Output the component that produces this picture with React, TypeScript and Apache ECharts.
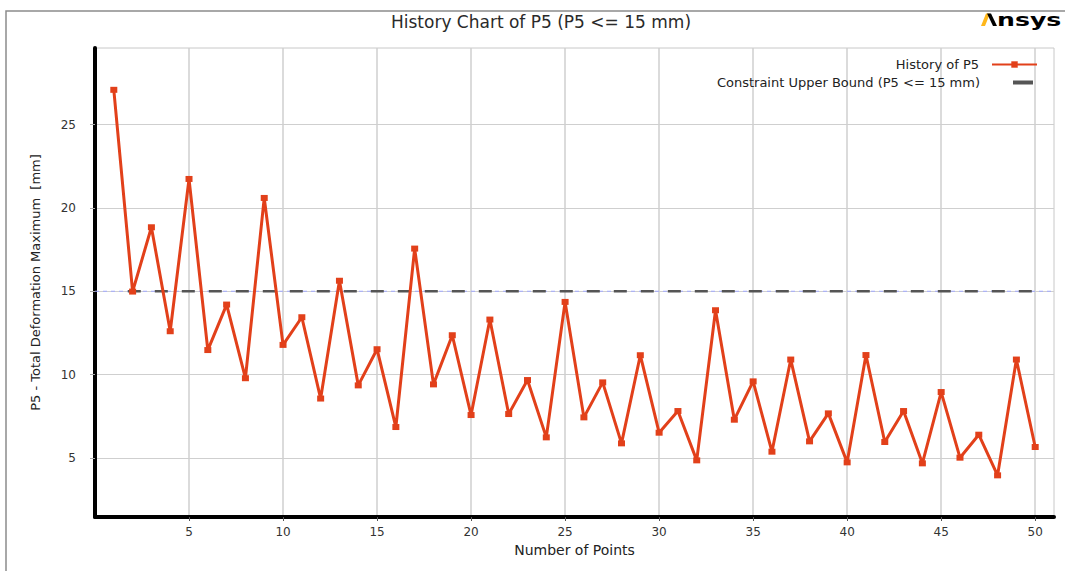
import React, { useEffect, useRef } from 'react';
import * as echarts from 'echarts';

const pointNumbers = [
  1, 2, 3, 4, 5, 6, 7, 8, 9, 10,
  11, 12, 13, 14, 15, 16, 17, 18, 19, 20,
  21, 22, 23, 24, 25, 26, 27, 28, 29, 30,
  31, 32, 33, 34, 35, 36, 37, 38, 39, 40,
  41, 42, 43, 44, 45, 46, 47, 48, 49, 50,
];
const p5Values = [
  27.09, 14.98, 18.84, 12.6, 21.74, 11.47, 14.2, 9.78, 20.6, 11.78,
  13.44, 8.56, 15.63, 9.35, 11.52, 6.85, 17.56, 9.41, 12.36, 7.57,
  13.3, 7.63, 9.67, 6.23, 14.36, 7.43, 9.53, 5.87, 11.16, 6.51,
  7.81, 4.85, 13.86, 7.29, 9.59, 5.37, 10.9, 5.99, 7.67, 4.73,
  11.17, 5.95, 7.81, 4.67, 8.95, 5.01, 6.39, 3.95, 10.9, 5.65,
];
const constraintValue = 15;
const constraintRange = [1, 50];
const xRange = [0, 51];
const yRange = [1.45, 29.6];
const xTicks = [5, 10, 15, 20, 25, 30, 35, 40, 45, 50];
const yTicks = [5, 10, 15, 20, 25];

const historyName = 'History of P5';
const boundName = 'Constraint Upper Bound (P5 <= 15 mm)';
const titleText = 'History Chart of P5 (P5 <= 15 mm)';

export default function App() {
  const ref = useRef<HTMLDivElement>(null);
  useEffect(() => {
    if (!ref.current) return;
    const chart = echarts.init(ref.current, null, { renderer: 'svg' });
    const font = "'DejaVu Sans', sans-serif";
    const red = '#e2401a';
    const dark = '#555555';
    chart.setOption({
      animation: false,
      backgroundColor: '#ffffff',
      title: {
        text: titleText,
        left: 541,
        top: 13,
        textAlign: 'center',
        padding: 0,
        textStyle: { fontFamily: font, fontSize: 17, fontWeight: 'normal', color: '#2a2a2a' },
      },
      legend: [
        {
          data: [historyName],
          orient: 'vertical',
          right: 27,
          top: 58,
          padding: 0,
          align: 'right',
          itemWidth: 45,
          itemHeight: 8,
          textStyle: { fontFamily: font, fontSize: 13, color: '#222', padding: [0, 8, 0, 0] },
        },
        {
          data: [{ name: boundName, icon: 'rect' }],
          orient: 'vertical',
          right: 32,
          top: 76,
          padding: 0,
          align: 'right',
          itemWidth: 20,
          itemHeight: 4,
          textStyle: { fontFamily: font, fontSize: 13, color: '#222', padding: [0, 28, 0, 0] },
        },
      ],
      grid: {
        left: 95,
        right: 11,
        top: 48,
        bottom: 54,
        show: true,
        borderColor: '#c8c8c8',
        borderWidth: 1,
      },
      xAxis: {
        type: 'value',
        min: xRange[0],
        max: xRange[1],
        name: 'Number of Points',
        nameLocation: 'middle',
        nameGap: 26,
        nameTextStyle: { fontFamily: font, fontSize: 14, color: '#222' },
        axisLine: { show: true, onZero: false, lineStyle: { color: '#000', width: 4 } },
        axisTick: { show: true, customValues: xTicks, length: 4, lineStyle: { color: '#555' } },
        axisLabel: { customValues: xTicks, fontFamily: font, fontSize: 12, color: '#333', margin: 9 },
        splitLine: { show: true, lineStyle: { color: '#cfcfcf', width: 1.5 } },
      },
      yAxis: {
        type: 'value',
        min: yRange[0],
        max: yRange[1],
        name: 'P5 - Total Deformation Maximum  [mm]',
        nameLocation: 'middle',
        nameGap: 53,
        nameTextStyle: { fontFamily: font, fontSize: 13, color: '#222' },
        axisLine: { show: true, onZero: false, lineStyle: { color: '#000', width: 4 } },
        axisTick: { show: true, customValues: yTicks, length: 5, lineStyle: { color: '#aaa' } },
        axisLabel: { customValues: yTicks, fontFamily: font, fontSize: 12, color: '#333', margin: 19 },
        splitLine: { show: true, lineStyle: { color: '#cfcfcf', width: 1.2 } },
      },
      series: [
        {
          name: 'bound-guide',
          type: 'line',
          data: [[xRange[0], constraintValue], [xRange[1], constraintValue]],
          symbol: 'none',
          silent: true,
          z: 1,
          lineStyle: { color: '#a3aaff', width: 1, type: [4, 4] },
          itemStyle: { color: '#a3aaff' },
        },
        {
          name: boundName,
          type: 'line',
          data: constraintRange.map((x) => [x, constraintValue]),
          symbol: 'none',
          silent: true,
          z: 2,
          lineStyle: { color: dark, width: 2.5, type: [13, 14], dashOffset: 13 },
          itemStyle: { color: dark },
        },
        {
          name: historyName,
          type: 'line',
          data: pointNumbers.map((x, i) => [x, p5Values[i]]),
          symbol: 'rect',
          symbolSize: [7, 6],
          z: 3,
          lineStyle: { color: red, width: 3 },
          itemStyle: { color: red },
        },
      ],
      graphic: [
        {
          type: 'rect',
          silent: true,
          z: -10,
          shape: { x: 6, y: 11, width: 1100, height: 600 },
          style: { fill: 'none', stroke: '#8c8c8c', lineWidth: 1.5 },
        },
        {
          type: 'polygon',
          silent: true,
          shape: { points: [[981, 26], [985, 26], [990, 13.5], [986, 13.5]] },
          style: { fill: '#ffb71b' },
        },
        {
          type: 'polygon',
          silent: true,
          shape: { points: [[987, 13.5], [991, 13.5], [997, 26], [993, 26]] },
          style: { fill: '#000' },
        },
        {
          type: 'text',
          silent: true,
          x: 997,
          y: 20,
          scaleX: 1.4,
          style: {
            text: 'nsys',
            font: "bold 18px 'DejaVu Sans', sans-serif",
            fill: '#000',
            verticalAlign: 'middle',
          },
        },
      ],
    });
    return () => chart.dispose();
  }, []);
  return (
    <div
      ref={ref}
      style={{ position: 'fixed', left: 0, top: 0, width: 1065, height: 571, background: '#fff' }}
    />
  );
}
